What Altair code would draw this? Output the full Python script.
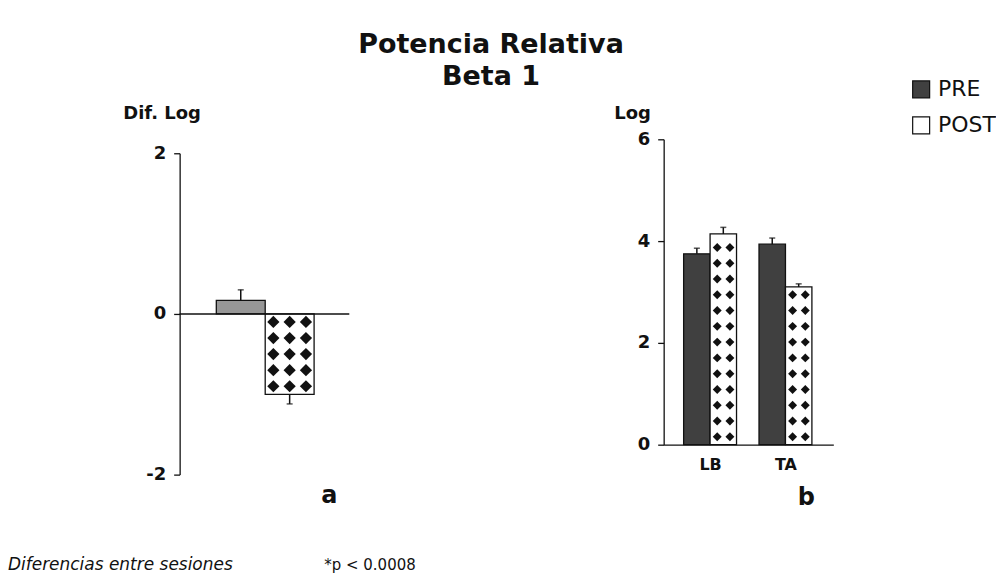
import altair as alt
import pandas as pd

# ---- data ---------------------------------------------------------------
sessions = ["PRE", "POST"]

# (a) difference between sessions, log units
diff_values = [0.17, -1.00]
diff_errors = [0.13, 0.12]

# (b) relative beta-1 power (log) per muscle and session
muscles = ["LB", "TA"]
pre_values = [3.75, 3.94]
pre_errors = [0.11, 0.12]
post_values = [4.14, 3.10]
post_errors = [0.13, 0.06]

FONT = "DejaVu Sans"
INK = "#111111"
PRE_LIGHT = "#979797"
PRE_DARK = "#404040"

# ---- tables ---------------------------------------------------------------
a_rows = []
for i, (s, v, e) in enumerate(zip(sessions, diff_values, diff_errors)):
    sign = 1 if v >= 0 else -1
    a_rows.append(dict(session=s, x0=i, x1=i + 1, xc=i + 0.5, value=v,
                       base=0.0, err_end=v + sign * e))
a_df = pd.DataFrame(a_rows)

# diamond hatching inside the POST bar (one row every 0.2 log units)
a_pat = []
for r in a_df[a_df.session == "POST"].itertuples():
    sign = 1 if r.value >= 0 else -1
    for k in range(int(round(abs(r.value) / 0.2))):
        for c in range(3):
            a_pat.append(dict(px=r.x0 + (c + 0.5) / 3, py=sign * (k + 0.5) * 0.2))
a_pat = pd.DataFrame(a_pat)

GROUP_STEP = 2.85
b_rows = []
for g, m in enumerate(muscles):
    for s, (vals, errs) in enumerate([(pre_values, pre_errors), (post_values, post_errors)]):
        x0 = g * GROUP_STEP + s
        b_rows.append(dict(muscle=m, session=sessions[s], x0=x0, x1=x0 + 1,
                           xc=x0 + 0.5, value=vals[g], base=0.0,
                           err_end=vals[g] + errs[g]))
b_df = pd.DataFrame(b_rows)

b_pat = []
for r in b_df[b_df.session == "POST"].itertuples():
    for k in range(int(r.value / 0.31)):
        for off in (0.27, 0.75):
            b_pat.append(dict(px=r.x0 + off, py=(k + 0.5) * 0.31))
b_pat = pd.DataFrame(b_pat)

# ---- shared styling -------------------------------------------------------
def y_axis(title, values, tx, ty):
    return alt.Axis(values=values, labelExpr="'' + datum.value",
                    title=title, titleAngle=0, titleAlign="left",
                    titleBaseline="middle", titleX=tx, titleY=ty, titleFont=FONT,
                    titleFontSize=18, titleFontWeight="bold", titleColor=INK,
                    labelFont=FONT, labelFontSize=18, labelFontWeight="bold",
                    labelColor=INK, labelPadding=8, tickSize=6, tickColor=INK,
                    domainColor=INK, domainWidth=1.3, tickWidth=1.3, grid=False)

def text_layer(label, x, y, size, weight="bold", style="normal", align="center"):
    return alt.Chart(pd.DataFrame({"t": [label]})).mark_text(
        font=FONT, fontSize=size, fontWeight=weight, fontStyle=style,
        align=align, baseline="middle", color=INK,
    ).encode(text="t:N", x=alt.value(x), y=alt.value(y))

# ---- panel a --------------------------------------------------------------
a_x = alt.Scale(domain=[-0.75, 2.72], nice=False, zero=False)
a_y = alt.Scale(domain=[-2, 2], range=[336, 14], nice=False, zero=False)

a_bars = alt.Chart(a_df).mark_rect(stroke=INK, strokeWidth=1.3).encode(
    x=alt.X("x0:Q", scale=a_x, axis=None),
    x2="x1:Q",
    y=alt.Y("value:Q", scale=a_y, axis=y_axis("Dif. Log", [-2, 0, 2], -57, -26)),
    y2="base:Q",
    fill=alt.condition("datum.session === 'PRE'", alt.value(PRE_LIGHT), alt.value("white")),
)
a_zero = alt.Chart(pd.DataFrame({"z": [0]})).mark_rule(color=INK, strokeWidth=1.5).encode(
    y=alt.Y("z:Q", scale=a_y)
)
a_diam = alt.Chart(a_pat).mark_point(shape="diamond", filled=True, color=INK,
                                     size=150, opacity=1).encode(
    x=alt.X("px:Q", scale=a_x), y=alt.Y("py:Q", scale=a_y)
)
a_err = alt.Chart(a_df).mark_rule(color=INK, strokeWidth=1.5).encode(
    x=alt.X("xc:Q", scale=a_x), y=alt.Y("value:Q", scale=a_y), y2="err_end:Q"
)
a_cap = alt.Chart(a_df).mark_tick(orient="horizontal", color=INK, size=6,
                                  thickness=1.5).encode(
    x=alt.X("xc:Q", scale=a_x), y=alt.Y("err_end:Q", scale=a_y)
)

panel_a = alt.layer(
    a_bars, a_zero, a_diam, a_err, a_cap,
    text_layer("a", 150, 357, 24),
    text_layer("Diferencias entre sesiones", -172, 427, 17, weight="normal",
               style="italic", align="left"),
    text_layer("*p < 0.0008", 145, 427, 15, weight="normal", align="left"),
).properties(width=170, height=336)

# ---- panel b --------------------------------------------------------------
b_x = alt.Scale(domain=[-0.755, 5.66], nice=False, zero=False)
b_y = alt.Scale(domain=[0, 6], nice=False)
label_expr = f"datum.value < {GROUP_STEP} ? '{muscles[0]}' : '{muscles[1]}'"

b_bars = alt.Chart(b_df).mark_rect(stroke=INK, strokeWidth=1.3).encode(
    x=alt.X("x0:Q", scale=b_x, axis=alt.Axis(
        values=[1, GROUP_STEP + 1], labelExpr=label_expr, ticks=False, grid=False,
        title=None, labelFont=FONT, labelFontSize=16, labelFontWeight="bold",
        labelColor=INK, labelPadding=12, domainColor=INK,
        domainWidth=1.3, labelFlush=False)),
    x2="x1:Q",
    y=alt.Y("value:Q", scale=b_y, axis=y_axis("Log", [0, 2, 4, 6], -50, -26)),
    y2="base:Q",
    fill=alt.Fill("session:N", scale=alt.Scale(domain=sessions, range=[PRE_DARK, "white"]),
                  legend=alt.Legend(title=None, orient="none", legendX=732, legendY=-61,
                                    symbolType="square", symbolSize=289,
                                    symbolStrokeColor=INK, symbolStrokeWidth=1.2,
                                    labelFont=FONT, labelFontSize=22, labelColor=INK,
                                    labelOffset=6, rowPadding=14, padding=0)),
)
b_diam = alt.Chart(b_pat).mark_point(shape="diamond", filled=True, color=INK,
                                     size=80, opacity=1).encode(
    x=alt.X("px:Q", scale=b_x), y=alt.Y("py:Q", scale=b_y)
)
b_err = alt.Chart(b_df).mark_rule(color=INK, strokeWidth=1.5).encode(
    x=alt.X("xc:Q", scale=b_x), y=alt.Y("value:Q", scale=b_y), y2="err_end:Q"
)
b_cap = alt.Chart(b_df).mark_tick(orient="horizontal", color=INK, size=6,
                                  thickness=1.5).encode(
    x=alt.X("xc:Q", scale=b_x), y=alt.Y("err_end:Q", scale=b_y)
)

panel_b = alt.layer(
    b_bars, b_diam, b_err, b_cap, text_layer("b", 143, 359, 24)
).properties(width=170, height=306)

chart = alt.hconcat(panel_a, panel_b, spacing=315, bounds="flush").properties(
    title=alt.TitleParams(["Potencia Relativa", "Beta 1"], font=FONT, fontSize=27,
                          fontWeight="bold", color=INK, anchor="middle",
                          lineHeight=32, dx=-11, offset=-13),
    padding={"left": 8, "top": 31, "right": 0, "bottom": 0},
    background="white",
).configure_view(stroke=None)

chart.save("out.html", embed_options={"renderer": "svg", "actions": False})
